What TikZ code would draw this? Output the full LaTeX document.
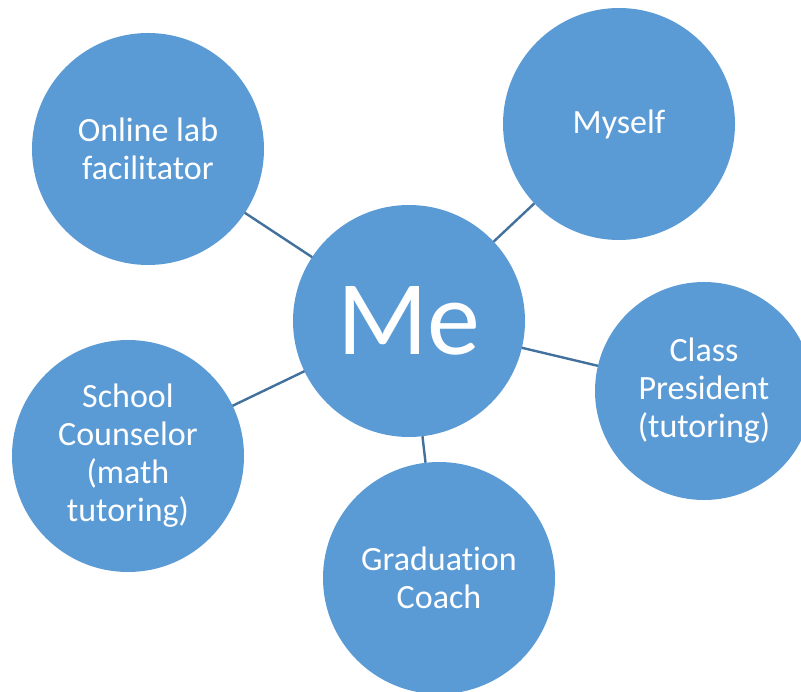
\documentclass[tikz,border=0pt]{standalone}
\usepackage{fontspec}
\setmainfont{Carlito}[Ligatures=NoCommon]
\definecolor{bubble}{HTML}{5B9BD5}
\definecolor{link}{HTML}{41719C}
\begin{document}
\begin{tikzpicture}[x=1pt,y=-1pt,
  bub/.style={circle,fill=bubble,draw=none,inner sep=0pt,outer sep=0pt,
    minimum size=232pt,text=white,align=center,
    font=\fontsize{34}{38}\selectfont},
  conn/.style={draw=link,line width=2.4pt}]
\clip (0,0) rectangle (801,692);
\fill[white] (0,0) rectangle (801,692);
\node[bub,font=\fontsize{106}{116}\selectfont] (me) at (409,321) {Me};
\node[bub] (online) at (148,149) {Online lab\\facilitator};
\node[bub] (myself) at (619,124) {Myself};
\node[bub,minimum size=218pt] (class) at (704,391) {Class\\President\\(tutoring)};
\node[bub] (school) at (128,456) {School\\Counselor\\(math\\tutoring)};
\node[bub] (grad) at (439,578) {Graduation\\Coach};
\draw[conn] (online) -- (me);
\draw[conn] (myself) -- (me);
\draw[conn] (class) -- (me);
\draw[conn] (school) -- (me);
\draw[conn] (grad) -- (me);
\end{tikzpicture}
\end{document}
